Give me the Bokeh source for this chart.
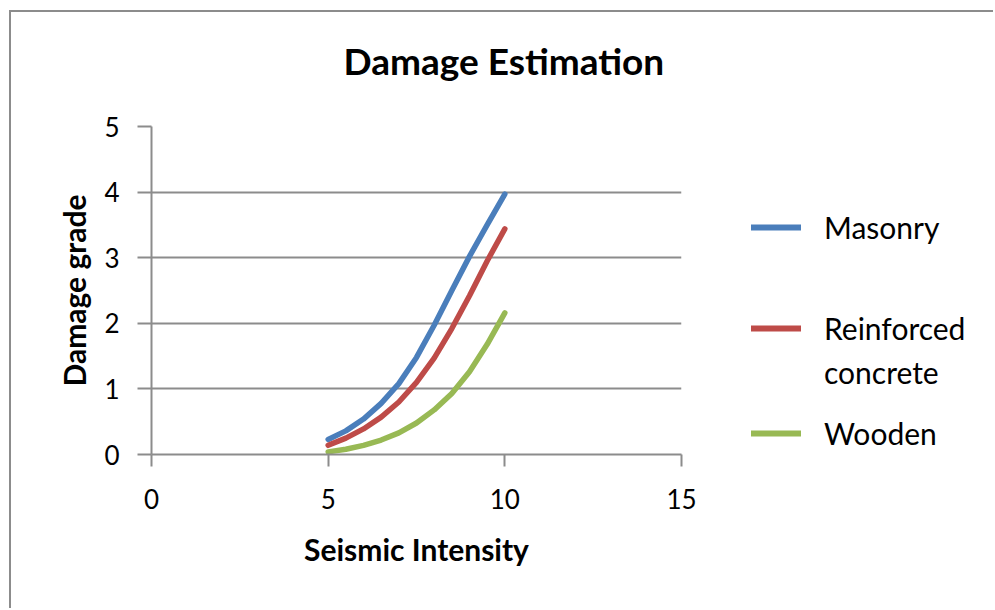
from bokeh.plotting import figure
from bokeh.layouts import row
from bokeh.models import Legend, LegendItem, Range1d, FixedTicker, Title
from bokeh.embed import file_html
from bokeh.resources import INLINE

# Data
intensity = [5, 5.5, 6, 6.5, 7, 7.5, 8, 8.5, 9, 9.5, 10]
masonry = [0.23, 0.36, 0.54, 0.78, 1.08, 1.48, 1.97, 2.5, 3.02, 3.5, 3.97]
reinforced = [0.14, 0.25, 0.39, 0.57, 0.8, 1.1, 1.47, 1.92, 2.42, 2.95, 3.44]
wooden = [0.04, 0.08, 0.14, 0.22, 0.33, 0.48, 0.68, 0.93, 1.26, 1.68, 2.16]
series_names = ["Masonry", "Reinforced concrete", "Wooden"]
x_ticks = [0, 5, 10, 15]
y_ticks = [0, 1, 2, 3, 4, 5]

FONT = "Lato"
GRID = "#8c8c8c"
colors = ["#4A7EBB", "#BE4B48", "#98B954"]
series = [masonry, reinforced, wooden]

# ---- main chart ----
p = figure(width=700, height=596, output_backend="svg", toolbar_location=None,
           x_range=Range1d(0, 15), y_range=Range1d(0, 5),
           min_border_left=140, min_border_right=30,
           min_border_top=114, min_border_bottom=154)
p.outline_line_color = None
p.background_fill_color = "white"
p.border_fill_color = "white"

p.title = Title(text="Damage Estimation", align="left", offset=192,
                text_font=FONT, text_font_size="37px", text_font_style="bold",
                text_color="black", standoff=10)
# empty spacer between the title and the plot area
p.add_layout(Title(text=" ", text_font_size="10px", standoff=26), "above")

p.xgrid.visible = False
p.ygrid.ticker = FixedTicker(ticks=y_ticks)
p.ygrid.grid_line_color = GRID
p.ygrid.grid_line_width = 2

for ax in (p.xaxis[0], p.yaxis[0]):
    ax.axis_line_color = GRID
    ax.axis_line_width = 2
    ax.major_tick_line_color = GRID
    ax.major_tick_line_width = 2
    ax.minor_tick_line_color = None
    ax.major_tick_in = 0
    ax.major_label_text_font = FONT
    ax.major_label_text_font_size = "26px"
    ax.major_label_text_color = "black"
    ax.axis_label_text_font = FONT
    ax.axis_label_text_font_size = "30px"
    ax.axis_label_text_font_style = "bold"
    ax.axis_label_text_color = "black"

p.xaxis.ticker = FixedTicker(ticks=x_ticks)
p.yaxis.ticker = FixedTicker(ticks=y_ticks)
p.xaxis.major_tick_out = 12
p.yaxis.major_tick_out = 14
p.xaxis.major_label_standoff = 22
p.yaxis.major_label_standoff = 18
p.xaxis.axis_label = "Seismic Intensity"
p.yaxis.axis_label = "Damage grade"
p.xaxis.axis_label_standoff = 19
p.yaxis.axis_label_standoff = 9

for ys, c in zip(series, colors):
    p.line(intensity, ys, line_color=c, line_width=5.5, line_cap="round", line_join="round")

# ---- legend panel (same series, drawn outside its visible range; only the keys show) ----
lg = figure(width=282, height=596, output_backend="svg", toolbar_location=None,
            x_range=Range1d(0, 1), y_range=Range1d(0, 1),
            x_axis_location=None, y_axis_location=None,
            min_border_left=0, min_border_right=0, min_border_top=0, min_border_bottom=0)
lg.grid.visible = False
lg.outline_line_color = None
lg.background_fill_color = "white"
lg.border_fill_color = "white"

keys = [lg.line(intensity, ys, line_color=c, line_width=6, line_cap="round")
        for ys, c in zip(series, colors)]
blank = lg.line(intensity, reinforced, line_alpha=0)

legend_style = dict(orientation="vertical",
                    label_text_font=FONT, label_text_font_size="30px", label_text_color="black",
                    glyph_width=50, glyph_height=30, label_standoff=23,
                    padding=0, margin=0, border_line_color=None, background_fill_alpha=0)

rc_first, rc_second = series_names[1].split(" ", 1)
leg_m = Legend(items=[LegendItem(label=series_names[0], renderers=[keys[0]])],
               location=(40, 209), **legend_style)
leg_r = Legend(items=[LegendItem(label=rc_first, renderers=[keys[1]]),
                      LegendItem(label=rc_second, renderers=[blank])],
               location=(40, 64), spacing=8, **legend_style)
leg_w = Legend(items=[LegendItem(label=series_names[2], renderers=[keys[2]])],
               location=(40, 3), **legend_style)
for L in (leg_m, leg_r, leg_w):
    lg.add_layout(L, "center")

layout = row(p, lg)
layout.styles = {"border-left": "2px solid #8c8c8c", "border-top": "2px solid #8c8c8c",
                 "margin-left": "9px", "margin-top": "10px"}

open("out.html", "w").write(file_html(layout, INLINE))
